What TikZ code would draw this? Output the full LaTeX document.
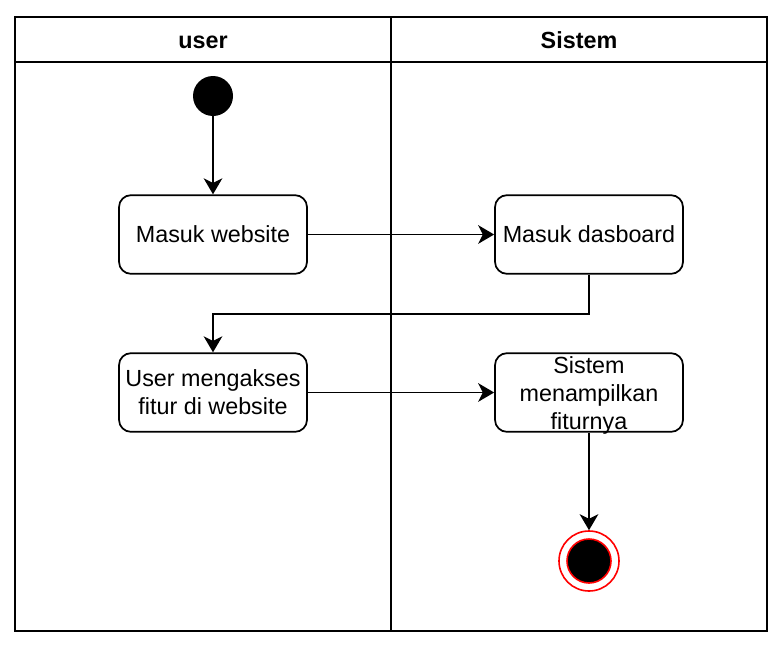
\documentclass[tikz,border=0pt]{standalone}
\usepackage{fontspec}
\setmainfont{Liberation Sans}
\usetikzlibrary{arrows.meta}
\begin{document}
\begin{tikzpicture}[x=0.75pt,y=-0.75pt,
  lane/.style={draw,line width=1.5pt},
  act/.style={draw,line width=1.3pt,rounded corners=9pt,minimum width=141pt,minimum height=59pt,inner sep=0pt,align=center,font=\fontsize{17.5}{21}\selectfont},
  lbl/.style={align=center,font=\fontsize{17.5}{21}\selectfont},
  hdr/.style={font=\bfseries\fontsize{17.5}{21}\selectfont,anchor=base},
  flow/.style={line width=1.4pt,-{Stealth[length=12pt,width=14pt,inset=3.5pt]}},
  plain/.style={line width=1.4pt}]
\useasboundingbox (0,0) rectangle (781,646);
\fill[white] (0,0) rectangle (781,646);
% swimlanes
\draw[lane] (15,17) rectangle (767,631);
\draw[lane] (15,62) -- (767,62);
\draw[lane] (391,17) -- (391,631);
\node[hdr] (h1) at (203,48) {user};
\node[hdr] (h2) at (579,48) {Sistem};
% nodes
\node[circle,fill=black,minimum size=30pt,inner sep=0pt] (start) at (213,96) {};
\node[act] (b1) at (213,234.5) {Masuk website};
\node[act] (b2) at (589,234.5) {Masuk dasboard};
\node[act] (b3) at (213,392.5) {User mengakses\\fitur di website};
\node[act] (b4) at (589,392.5) {};
\node[lbl] (t4) at (589,395) {Sistem\\menampilkan\\fiturnya};
\node[circle,draw=red,line width=1.2pt,minimum size=45pt,inner sep=0pt] (end) at (589,561) {};
\node[circle,fill=black,draw=red,line width=1.2pt,minimum size=33pt,inner sep=0pt] (endin) at (589,561) {};
% connectors
\draw[flow] (start) -- (b1);
\draw[flow] (b1) -- (b2);
\draw[flow] (b2.south) |- (213,314) -- (b3.north);
\draw[flow] (b3) -- (b4);
\draw[flow] (b4.south) -- (end.north);
\end{tikzpicture}
\end{document}
